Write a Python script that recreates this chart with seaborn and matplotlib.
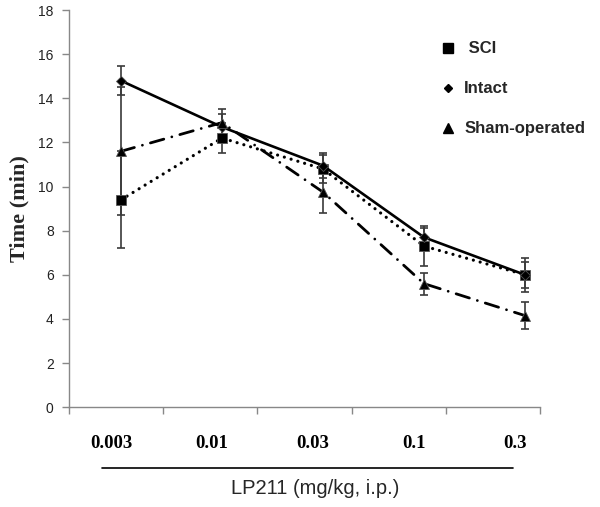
import pandas as pd
import seaborn as sns
import matplotlib.pyplot as plt
from matplotlib.lines import Line2D
import numpy as np

doses = ['0.003', '0.01', '0.03', '0.1', '0.3']

sci_mean = [9.4, 12.2, 10.8, 7.3, 6.0]
sci_err = [2.2, 0.7, 0.65, 0.9, 0.78]
intact_mean = [14.8, 12.7, 10.95, 7.7, 6.0]
intact_err = [0.65, 0.6, 0.55, 0.4, 0.6]
sham_mean = [11.6, 12.9, 9.75, 5.6, 4.15]
sham_err = [2.9, 0.62, 0.93, 0.5, 0.6]

groups = ['SCI', 'Intact', 'Sham-operated']
means = {'SCI': sci_mean, 'Intact': intact_mean, 'Sham-operated': sham_mean}
errs = {'SCI': sci_err, 'Intact': intact_err, 'Sham-operated': sham_err}

rows = []
for g in groups:
    for i, d in enumerate(doses):
        rows.append({'pos': i, 'dose': d, 'group': g,
                     'time': means[g][i], 'err': errs[g][i]})
df = pd.DataFrame(rows)

sns.set_style('white')
plt.rcParams['font.family'] = ['Liberation Sans', 'DejaVu Sans']

fig = plt.figure(figsize=(6, 5.07), dpi=100)
ax = fig.add_axes([0.115, 0.197, 0.785, 0.783])

markers = {'SCI': 's', 'Intact': 'D', 'Sham-operated': '^'}
msizes = {'SCI': 7, 'Intact': 5, 'Sham-operated': 7.5}
dashes = {'SCI': (0.01, 2.2), 'Intact': '', 'Sham-operated': (5, 3, 0.01, 3)}
widths = {'SCI': 2.3, 'Intact': 1.9, 'Sham-operated': 2.0}

# error bars first so markers sit on top
for g in groups:
    sub = df[df['group'] == g]
    ax.errorbar(sub['pos'], sub['time'], yerr=sub['err'], fmt='none',
                ecolor='#3a3a3a', elinewidth=1.2, capsize=3, capthick=1.2,
                zorder=2)

for g in groups:
    sub = df[df['group'] == g]
    sns.lineplot(data=sub, x='pos', y='time', ax=ax, color='black',
                 linewidth=widths[g], marker=markers[g],
                 markersize=msizes[g], markeredgecolor='#555555',
                 markeredgewidth=0.6, legend=False, zorder=3)
    ln = ax.lines[-1]
    if dashes[g]:
        ln.set_dashes(dashes[g])
    ln.set_dash_capstyle('round')

ax.set_xlim(-0.515, 4.149)
ax.set_ylim(0, 18)
ax.set_yticks(np.arange(0, 19, 2))
ax.tick_params(axis='y', labelsize=10, colors='#222222', length=5,
               width=1, direction='out', left=True, color='#888888', pad=6)

# category labels between the boundary ticks
ax.set_xticks([i - 0.1 for i in range(len(doses))])
ax.set_xticklabels(doses, fontfamily='Liberation Serif', fontweight='bold',
                   fontsize=13.5)
ax.tick_params(axis='x', length=0, pad=20, colors='black')
ax.set_xticks([-0.515, 0.416, 1.347, 2.287, 3.218, 4.149], minor=True)
ax.tick_params(axis='x', which='minor', length=5, width=1,
               color='#888888', bottom=True, direction='out')

for s in ['top', 'right']:
    ax.spines[s].set_visible(False)
for s in ['left', 'bottom']:
    ax.spines[s].set_color('#888888')
    ax.spines[s].set_linewidth(1)

ax.set_xlabel('')
ax.set_ylabel('Time (min)', fontfamily='Liberation Serif', fontweight='bold',
              fontsize=16, labelpad=6)

fig.add_artist(Line2D([0.17, 0.855], [0.077, 0.077], color='black', lw=1.2))
fig.text(0.525, 0.037, 'LP211 (mg/kg, i.p.)', ha='center', va='center',
         fontsize=14.5)

handles = [Line2D([], [], color='black', linestyle='none', marker=markers[g],
                  markersize=msizes[g] - 0.5) for g in groups]
leg = ax.legend(handles, [' SCI', 'Intact', 'Sham-operated'],
                loc='upper left', bbox_to_anchor=(0.71, 0.948),
                bbox_transform=fig.transFigure, frameon=False,
                handlelength=0.8, handletextpad=0.6, labelspacing=1.5,
                prop={'size': 12, 'weight': 'bold'})

fig.savefig('out.png', dpi=100)
